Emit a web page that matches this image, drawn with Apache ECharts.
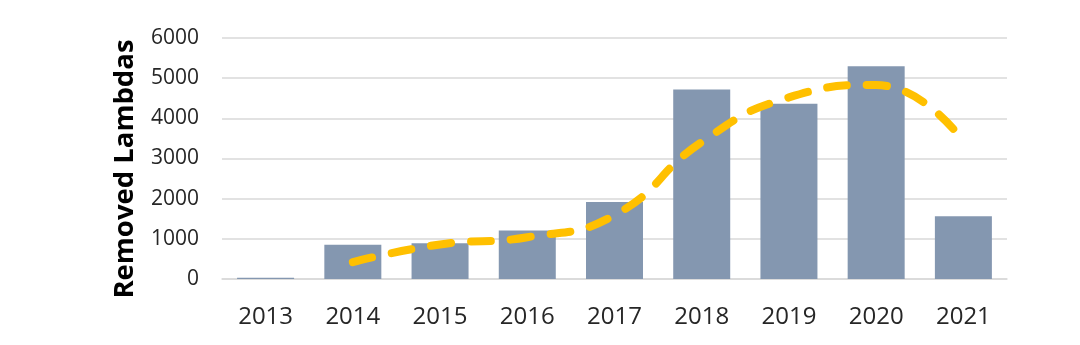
<!DOCTYPE html>
<html>
<head>
<meta charset="utf-8">
<script src="https://cdn.jsdelivr.net/npm/echarts@6/dist/echarts.min.js"></script>
<style>html,body{margin:0;padding:0;background:#fff}#c{width:1080px;height:345px}</style>
</head>
<body>
<div id="c"></div>
<script>
var years = ['2013','2014','2015','2016','2017','2018','2019','2020','2021'];
var removed = [30, 850, 890, 1210, 1915, 4720, 4365, 5295, 1565];
var trend = [null, 420, 860, 1040, 1590, 3410, 4520, 4830, 3430];
var yTicks = [0, 1000, 2000, 3000, 4000, 5000, 6000];
var yTitle = 'Removed Lambdas';

var chart = echarts.init(document.getElementById('c'));
chart.setOption({
  animation: false,
  grid: {left: 222, right: 73, top: 38, bottom: 66},
  graphic: [{
    type: 'text', x: 125, y: 169, rotation: Math.PI / 2,
    style: {text: yTitle, fontFamily: 'Open Sans', fontWeight: 'bold', fontSize: 27.5,
      fill: '#000', align: 'center', verticalAlign: 'middle'}
  }],
  xAxis: {
    type: 'category', data: years,
    axisLine: {lineStyle: {color: '#d9d9d9', width: 1.5}},
    axisTick: {show: false},
    axisLabel: {fontFamily: 'Open Sans', fontSize: 24, color: '#262626', margin: 26}
  },
  yAxis: {
    type: 'value', min: yTicks[0], max: yTicks[yTicks.length-1], interval: 1000,
    axisLabel: {fontFamily: 'Open Sans', fontSize: 21, color: '#262626', margin: 23,
      formatter: function (v) { return String(v); }},
    splitLine: {lineStyle: {color: '#d9d9d9', width: 1.5}}
  },
  series: [
    {type: 'bar', data: removed, barWidth: 57,
     itemStyle: {color: '#8497b0'}},
    {type: 'line', data: trend, smooth: 0.5, symbol: 'none', connectNulls: false,
     lineStyle: {color: '#ffc000', width: 8, type: [20, 20], cap: 'round'}}
  ]
});
</script>
</body>
</html>
